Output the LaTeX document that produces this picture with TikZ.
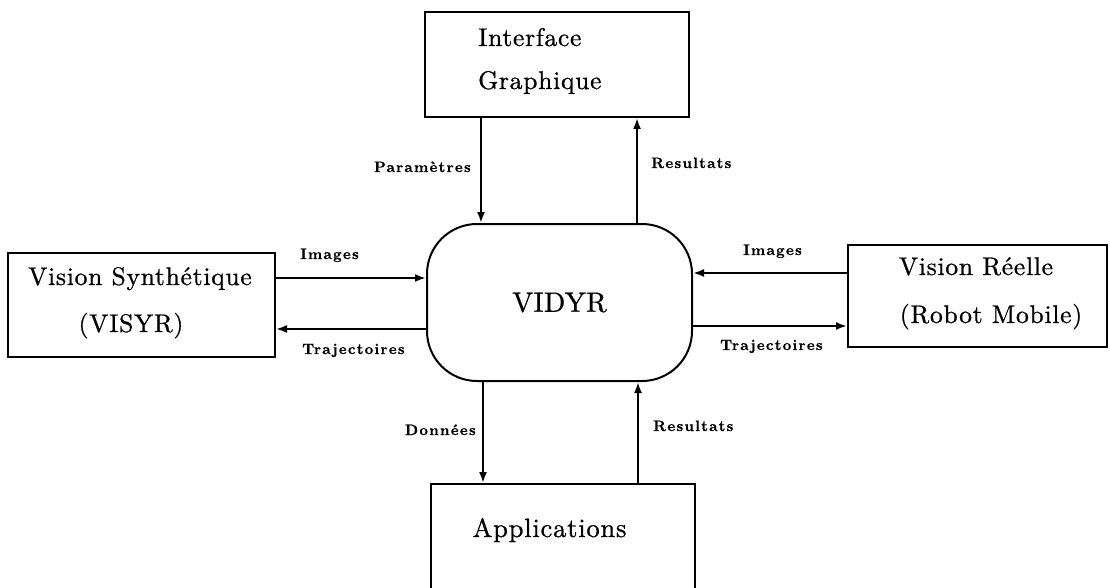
\documentclass[tikz,border=0pt]{standalone}
\usepackage{fontspec}
\setmainfont{lmroman10-regular}[Extension=.otf, BoldFont=lmroman10-bold]
\newfontfamily\boxfont{lmroman10-regular}[Extension=.otf, LetterSpace=3, FakeBold=0.8]
\newfontfamily\bigfont{lmroman10-regular}[Extension=.otf, LetterSpace=1, FakeBold=0.8]
\newfontfamily\tagfont{lmroman10-bold}[Extension=.otf, LetterSpace=8, FakeBold=0.6]
\usetikzlibrary{arrows.meta}

\tikzset{
  box/.style={draw, line width=2pt, inner sep=0pt},
  boxtext/.style={inner sep=0pt, font=\boxfont\fontsize{25.5}{30}\selectfont},
  tag/.style={inner sep=0pt, font=\tagfont\fontsize{15}{18}\selectfont},
  flow/.style={line width=2pt, -{Latex[length=11pt,width=8pt]}},
}

\begin{document}
\begin{tikzpicture}[x=1pt,y=-1pt]
\useasboundingbox (0,0) rectangle (1110,588);
\fill[white] (0,0) rectangle (1110,588);

% modules
\node[box, minimum width=264pt, minimum height=105pt] (gui) at (557,64.5) {};
\node[box, rounded corners=50pt, minimum width=265pt, minimum height=157pt,
      font=\bigfont\fontsize{28}{33}\selectfont] (vidyr) at (559.5,302.5) {VIDYR};
\node[box, minimum width=267pt, minimum height=104pt] (visyr) at (141.5,305) {};
\node[box, minimum width=259pt, minimum height=102pt] (robot) at (977.5,296) {};
\node[box, minimum width=264pt, minimum height=116pt] (apps) at (563,542) {};

% module titles
\node[boxtext, anchor=base west] (guiA) at (478,46) {Interface};
\node[boxtext, anchor=base west] (guiB) at (478,89) {Graphique};
\node[boxtext, anchor=base] (visyrA) at (140,285) {Vision Synthétique};
\node[boxtext, anchor=base] (visyrB) at (131,332) {(VISYR)};
\node[boxtext, anchor=base] (robotA) at (976,275) {Vision Réelle};
\node[boxtext, anchor=base] (robotB) at (991,323) {(Robot Mobile)};
\node[boxtext, anchor=base, font=\boxfont\fontsize{26.5}{30}\selectfont] (appsA) at (549.5,537) {Applications};

% data flows
\draw[flow] (gui.south -| 481,0) -- (vidyr.north -| 481,0);
\draw[flow] (vidyr.north -| 637,0) -- (gui.south -| 637,0);
\draw[flow] (visyr.east |- 0,278) -- (vidyr.west |- 0,278);
\draw[flow] (vidyr.west |- 0,329) -- (visyr.east |- 0,329);
\draw[flow] (robot.west |- 0,273) -- (vidyr.east |- 0,273);
\draw[flow] (vidyr.east |- 0,326) -- (robot.west |- 0,326);
\draw[flow] (vidyr.south -| 483,0) -- (apps.north -| 483,0);
\draw[flow] (apps.north -| 638,0) -- (vidyr.south -| 638,0);

% flow labels
\node[tag, anchor=base east] (lParam) at (471,172) {Paramètres};
\node[tag, anchor=base west] (lResTop) at (651,168) {Resultats};
\node[tag, anchor=base west] (lImgL) at (300,259) {Images};
\node[tag, anchor=base west] (lTrajL) at (302,354) {Trajectoires};
\node[tag, anchor=base west] (lImgR) at (743,255) {Images};
\node[tag, anchor=base west] (lTrajR) at (720,350) {Trajectoires};
\node[tag, anchor=base east] (lDon) at (476,435) {Données};
\node[tag, anchor=base west] (lResBot) at (653,431) {Resultats};
\end{tikzpicture}
\end{document}
